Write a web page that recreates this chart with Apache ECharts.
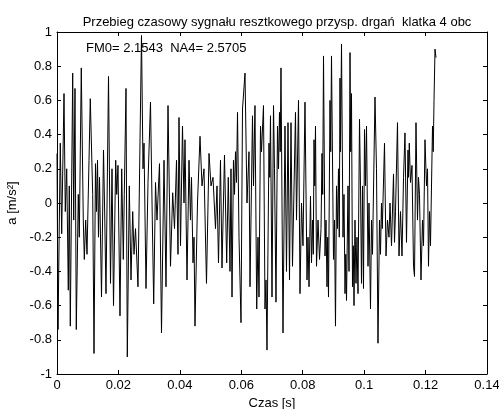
<!DOCTYPE html>
<html>
<head>
<meta charset="utf-8">
<script src="https://cdn.jsdelivr.net/npm/echarts@6/dist/echarts.min.js"></script>
<style>
  html, body { margin: 0; padding: 0; background: #fff; }
  #chart { width: 499px; height: 409px; }
</style>
</head>
<body>
<div id="chart"></div>
<script>
// czas [s]
const czas = [
  0, 0.00033, 0.00107, 0.00153, 0.00228, 0.00270, 0.00316, 0.00368, 0.00400, 0.00433,
  0.00511, 0.00544, 0.00586, 0.00628, 0.00693, 0.00726, 0.00791, 0.00856, 0.00889, 0.00934,
  0.00977, 0.01042, 0.01084, 0.01162, 0.01205, 0.01253, 0.01286, 0.01319, 0.01351, 0.01384,
  0.01449, 0.01514, 0.01547, 0.01595, 0.01677, 0.01742, 0.01791, 0.01840, 0.01911, 0.01944,
  0.01986, 0.02051, 0.02107, 0.02159, 0.02191, 0.02247, 0.02289, 0.02354, 0.02409, 0.02465,
  0.02507, 0.02556, 0.02637, 0.02751, 0.02800, 0.02833, 0.02898, 0.02963, 0.03044, 0.03103,
  0.03148, 0.03207, 0.03256, 0.03337, 0.03402, 0.03484, 0.03549, 0.03614, 0.03695, 0.03767,
  0.03826, 0.03891, 0.03940, 0.03972, 0.04021, 0.04086, 0.04135, 0.04167, 0.04233, 0.04298,
  0.04346, 0.04379, 0.04428, 0.04461, 0.04493, 0.04574, 0.04656, 0.04721, 0.04786, 0.04867,
  0.04949, 0.05014, 0.05079, 0.05160, 0.05209, 0.05258, 0.05323, 0.05372, 0.05453, 0.05525,
  0.05577, 0.05633, 0.05665, 0.05698, 0.05746, 0.05779, 0.05812, 0.05844, 0.05877, 0.05926,
  0.05991, 0.06040, 0.06121, 0.06186, 0.06251, 0.06284, 0.06365, 0.06398, 0.06446, 0.06502,
  0.06544, 0.06577, 0.06626, 0.06658, 0.06723, 0.06772, 0.06805, 0.06837, 0.06902, 0.06927,
  0.06951, 0.07000, 0.07049, 0.07081, 0.07130, 0.07179, 0.07212, 0.07244, 0.07268, 0.07293,
  0.07358, 0.07423, 0.07472, 0.07521, 0.07570, 0.07619, 0.07667, 0.07765, 0.07798, 0.07863,
  0.07912, 0.07961, 0.08009, 0.08074, 0.08140, 0.08172, 0.08205, 0.08253, 0.08286, 0.08319,
  0.08345, 0.08368, 0.08393, 0.08416, 0.08449, 0.08498, 0.08547, 0.08596, 0.08628, 0.08651,
  0.08677, 0.08726, 0.08758, 0.08791, 0.08814, 0.08840, 0.08888, 0.08912, 0.08937, 0.09002,
  0.09035, 0.09067, 0.09100, 0.09133, 0.09165, 0.09191, 0.09214, 0.09230, 0.09263, 0.09312,
  0.09344, 0.09377, 0.09402, 0.09426, 0.09474, 0.09507, 0.09540, 0.09563, 0.09588, 0.09621,
  0.09647, 0.09670, 0.09702, 0.09735, 0.09767, 0.09800, 0.09849, 0.09881, 0.09914, 0.09947,
  0.09979, 0.10012, 0.10044, 0.10077, 0.10126, 0.10158, 0.10207, 0.10240, 0.10272, 0.10353,
  0.10402, 0.10451, 0.10500, 0.10532, 0.10565, 0.10591, 0.10663, 0.10712, 0.10760, 0.10809,
  0.10842, 0.10891, 0.10956, 0.10988, 0.11021, 0.11086, 0.11135, 0.11184, 0.11233, 0.11282,
  0.11330, 0.11379, 0.11428, 0.11444, 0.11470, 0.11509, 0.11558, 0.11607, 0.11640, 0.11688,
  0.11737, 0.11770, 0.11802, 0.11851, 0.11900, 0.11933, 0.11981, 0.12030, 0.12063, 0.12095,
  0.12128, 0.12160, 0.12226, 0.12249, 0.12275, 0.12307, 0.12339
]

// przyspieszenie a [m/s^2]
const przysp = [
  0.29, -0.74, 0.35, -0.18, 0.64, -0.05, 0.2, -0.51, 0.1, -0.72,
  0.76, -0.1, 0.67, -0.74, 0.05, -0.2, 0.79, -0.1, -0.33, -0.1,
  -0.3, 0.25, 0.61, 0.05, -0.88, 0.23, -0.05, 0.25, -0.2, 0.15,
  -0.55, 0.31, 0.0, -0.53, 0.74, -0.47, 0.2, -0.6, 0.25, 0.05,
  0.22, -0.66, 0.2, -0.33, 0.05, 0.67, -0.9, 0.1, -0.45, -0.05,
  -0.3, -0.15, -0.49, 0.98, 0.2, 0.35, -0.5, 0.12, 0.59, -0.1,
  -0.59, 0.12, -0.1, 0.23, -0.76, 0.25, -0.49, 0.57, -0.37, 0.06,
  -0.15, 0.25, -0.3, 0.5, -0.25, 0.45, 0.0, 0.37, -0.45, 0.25,
  -0.1, 0.15, -0.35, -0.2, -0.72, 0.0, 0.39, 0.1, 0.2, -0.47,
  0.29, 0.1, 0.15, -0.15, 0.1, -0.35, 0.25, -0.38, 0.28, -0.35,
  0.15, -0.4, 0.2, -0.55, 0.25, 0.05, 0.3, 0.12, 0.53, -0.2,
  -0.7, 0.55, 0.76, 0.0, 0.3, -0.49, 0.51, 0.1, 0.57, -0.62,
  -0.2, -0.55, 0.45, 0.3, 0.57, -0.62, -0.45, -0.86, 0.35, 0.15,
  0.51, -0.55, 0.57, 0.2, -0.58, 0.45, 0.2, 0.53, 0.3, 0.79,
  -0.76, 0.45, -0.4, 0.47, -0.45, 0.47, -0.37, 0.53, -0.1, 0.6,
  -0.53, 0.0, -0.25, 0.59, -0.45, -0.2, -0.49, 0.04, -0.35, -0.1,
  -0.3, 0.37, 0.1, 0.45, -0.37, -0.1, -0.33, -0.15, 0.29, 0.05,
  0.86, -0.31, -0.1, -0.49, -0.2, -0.55, 0.6, 0.3, 0.86, -0.33,
  -0.1, -0.72, 0.1, -0.15, 0.2, -0.2, 0.73, 0.3, 0.93, -0.2,
  0.05, -0.53, -0.3, -0.57, 0.1, -0.4, 0.88, 0.3, 0.64, -0.49,
  -0.25, -0.6, -0.1, -0.47, -0.2, -0.53, 0.49, 0.1, -0.47, 0.1,
  -0.5, 0.43, 0.1, 0.45, -0.37, 0.0, -0.62, -0.1, -0.3, 0.62,
  0.2, -0.82, -0.1, -0.3, 0.0, -0.15, 0.35, -0.31, -0.1, -0.2,
  0.0, -0.25, 0.17, -0.23, -0.05, 0.47, -0.31, -0.05, -0.31, 0.15,
  0.41, -0.23, 0.31, 0.15, 0.35, 0.12, 0.22, -0.37, -0.43, 0.47,
  -0.1, 0.15, 0.05, -0.45, -0.1, -0.25, 0.37, 0.1, 0.2, -0.37,
  -0.05, -0.25, 0.45, 0.3, 0.6, 0.9, 0.85
]

const tytul = 'Przebieg czasowy sygnału resztkowego przysp. drgań  klatka 4 obc'
const opis = 'FM0= 2.1543  NA4= 2.5705'

const font = 'Liberation Sans, Arial, sans-serif'
const chart = echarts.init(document.getElementById('chart'))

const dane = czas.map((t, i) => [t, przysp[i]])

const tickStyle = { inside: true, length: 4, lineStyle: { color: '#000', width: 1 } }
const lineStyle = { onZero: false, lineStyle: { color: '#000', width: 1 } }

const option = {
  backgroundColor: '#fff',
  animation: false,
  title: {
    text: tytul,
    left: 272,
    textAlign: 'center',
    top: 11,
    textStyle: { fontFamily: font, fontSize: 13, fontWeight: 'normal', color: '#000' }
  },
  grid: { left: 57, right: 12, top: 32, bottom: 35, outerBoundsMode: 'none' },
  graphic: [
    {
      type: 'text',
      left: 86,
      top: 42,
      style: { text: opis, font: '13px ' + font, fill: '#000' }
    }
  ],
  xAxis: [
    {
      type: 'value',
      min: 0,
      max: 0.14,
      interval: 0.02,
      name: 'Czas [s]',
      nameLocation: 'middle',
      nameGap: 21,
      nameTextStyle: { fontFamily: font, fontSize: 13, color: '#000' },
      axisLine: lineStyle,
      axisTick: tickStyle,
      axisLabel: { fontFamily: font, fontSize: 13, color: '#000', margin: 5 },
      splitLine: { show: false }
    },
    {
      type: 'value',
      position: 'top',
      min: 0,
      max: 0.14,
      interval: 0.02,
      axisLine: lineStyle,
      axisTick: tickStyle,
      axisLabel: { show: false },
      splitLine: { show: false }
    }
  ],
  yAxis: [
    {
      type: 'value',
      min: -1,
      max: 1,
      interval: 0.2,
      name: 'a [m/s²]',
      nameLocation: 'middle',
      nameRotate: 90,
      nameGap: 31,
      nameTextStyle: { fontFamily: font, fontSize: 13, color: '#000' },
      axisLine: lineStyle,
      axisTick: tickStyle,
      axisLabel: { fontFamily: font, fontSize: 13, color: '#000', margin: 5 },
      splitLine: { show: false }
    },
    {
      type: 'value',
      position: 'right',
      min: -1,
      max: 1,
      interval: 0.2,
      axisLine: lineStyle,
      axisTick: tickStyle,
      axisLabel: { show: false },
      splitLine: { show: false }
    }
  ],
  series: [
    {
      type: 'line',
      data: dane,
      showSymbol: false,
      lineStyle: { color: '#000', width: 1 },
      xAxisIndex: 0,
      yAxisIndex: 0
    }
  ]
}

chart.setOption(option)
</script>
</body>
</html>
